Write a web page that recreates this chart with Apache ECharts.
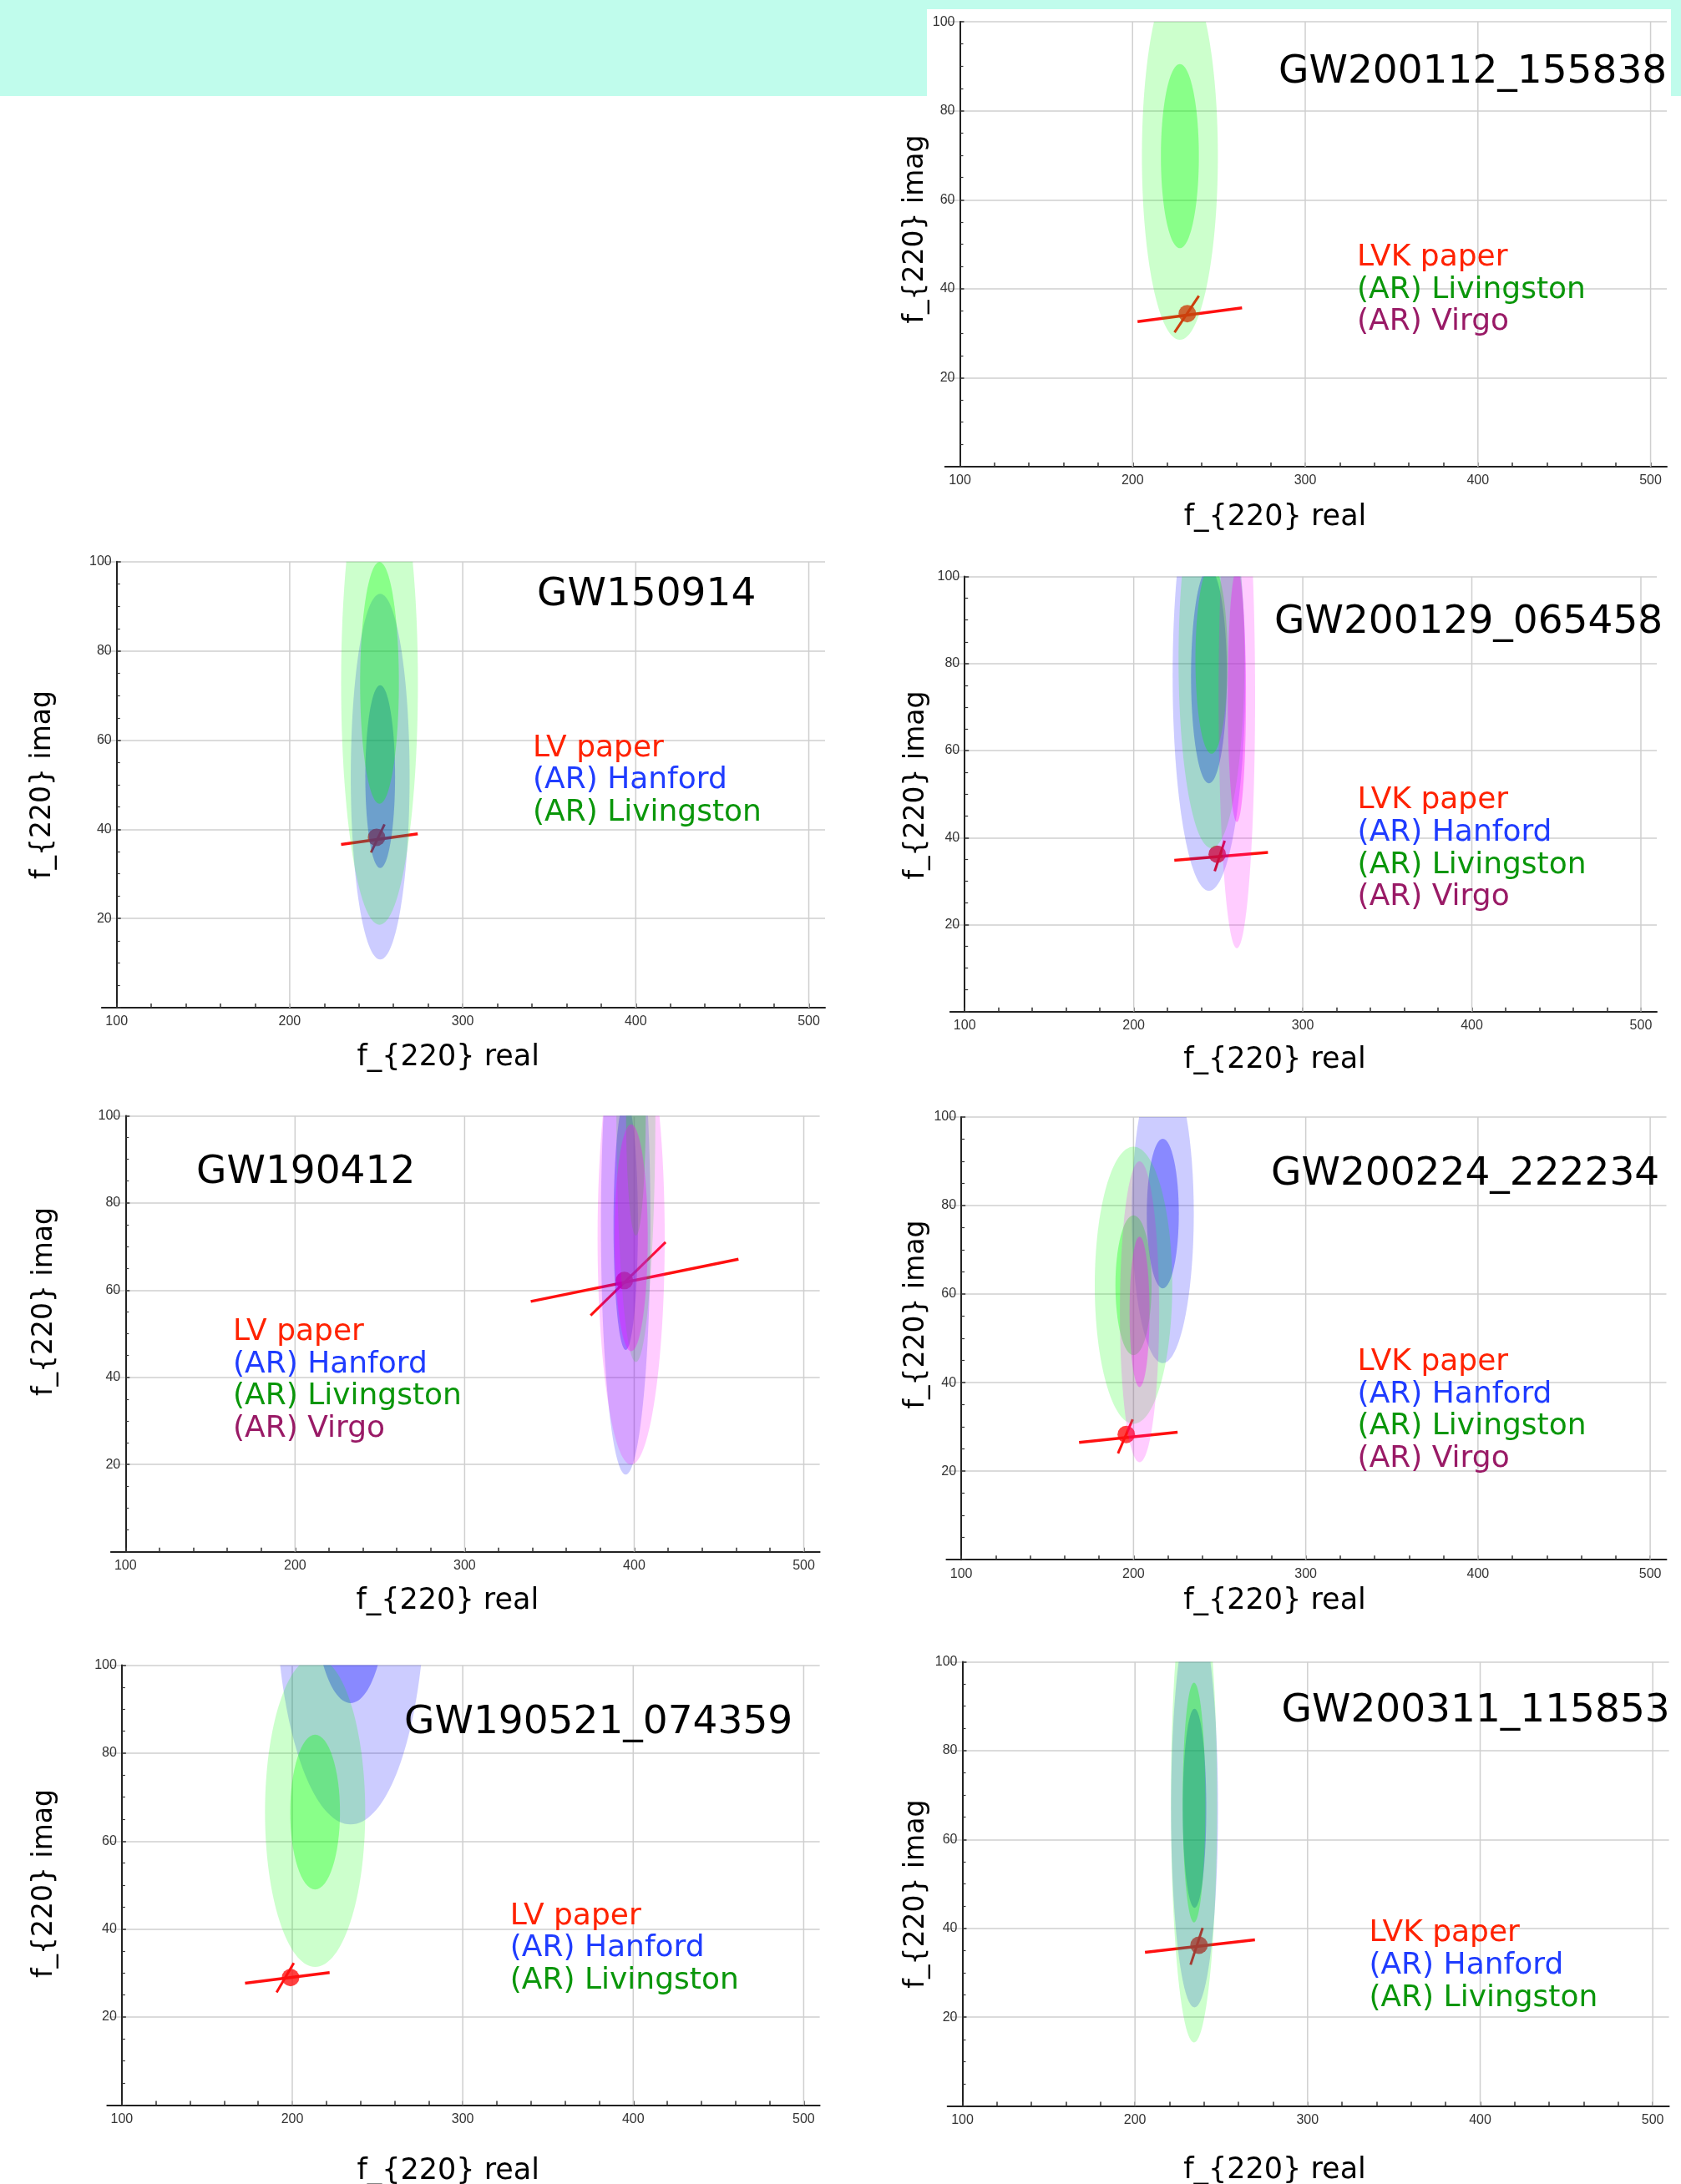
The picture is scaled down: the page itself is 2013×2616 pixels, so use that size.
<!DOCTYPE html>
<html>
<head>
<meta charset="utf-8">
<script src="https://cdn.jsdelivr.net/npm/echarts@6/dist/echarts.min.js"></script>
<style>
html,body{margin:0;padding:0;background:#fff;}
#c{width:2013px;height:2616px;}
</style>
</head>
<body>
<div id="c"></div>
<script>
// ---------------- DATA ----------------
const eventNames = ['GW200112_155838','GW150914','GW200129_065458','GW190412','GW200224_222234','GW190521_074359','GW200311_115853'];
const paperLabels = ['LVK paper','LV paper','LVK paper','LV paper','LVK paper','LV paper','LVK paper'];
const legendDetectors = [
  ['Livingston','Virgo'],
  ['Hanford','Livingston'],
  ['Hanford','Livingston','Virgo'],
  ['Hanford','Livingston','Virgo'],
  ['Hanford','Livingston','Virgo'],
  ['Hanford','Livingston'],
  ['Hanford','Livingston']
];
const xAxisTitle = 'f_{220} real';
const yAxisTitle = 'f_{220} imag';
const xTickLabels = [100,200,300,400,500];
const xTickMarks = [100,120,140,160,180,200,220,240,260,280,300,320,340,360,380,400,420,440,460,480,500];
const xGridLines = [200,300,400,500];
const yRange = [0,100];
const xRange = [91.4,509.4];

// LVK paper estimate: central point and two error axes (real, imag)
const lvkPoint = [[231.7,34.4],[250.2,38.2],[249.4,36.2],[394.2,62.2],[195.8,28.3],[199,29],[237.1,36.2]];
const lvkAxisA = [
  [[202.9,32.6],[263.4,35.7]],
  [[229.7,36.6],[274,39.0]],
  [[224,34.8],[279.4,36.6]],
  [[339,57.4],[461.5,67.1]],
  [[168.4,26.5],[225.6,28.8]],
  [[172.3,27.7],[221.9,30.1]],
  [[205.8,34.6],[269.5,37.4]]
];
const lvkAxisB = [
  [[224.3,30.2],[238.4,38.4]],
  [[247,34.8],[254.8,41.1]],
  [[247.9,32.3],[253.8,39.3]],
  [[374.3,54.2],[418.5,71.0]],
  [[191,24],[199.5,31.7]],
  [[190.8,25.6],[200.9,32.3]],
  [[232.2,31.8],[239.2,40.1]]
];

// AR ellipses: [centerReal, centerImag, a1, b1, a2, b2]  (1-sigma and 2-sigma semi-axes)
const hanfordEllipse = [
  null,
  [252.3,51.8,8.6,20.5,17,41],
  [244.5,77.2,10.6,24.7,21.5,49.4],
  [395,75,7.2,28.7,14.6,57.3],
  [217,78.2,9.3,16.9,18,33.8],
  [234.2,119,22,27.6,44,55.2],
  [234.5,67,6.8,22.4,13.6,44.8]
];
const livingstonEllipse = [
  [227.4,69.8,11,20.7,22,41.3],
  [251.9,72.8,11.2,27.1,22.2,54.2],
  [246,81,9.5,21.7,19.5,43.4],
  [401,101.5,5.8,29,11.5,58],
  [200,62,10.5,15.8,22.5,31.3],
  [213.4,66.6,14.6,17.6,29.4,35.2],
  [234.2,68.3,6.6,27,13.4,54]
];
const virgoEllipse = [
  null,
  null,
  [261,72.6,5.4,29,10.8,58],
  [398.2,72,9.8,26,19.8,52],
  [203.5,56,5.8,17,11.4,34],
  null,
  null
];

// ---------------- LAYOUT / STYLE ----------------
const gridBox = [
  [1131.7,26.1,864.3,532.9],
  [121.9,672.8,866.1,534.2],
  [1137.8,690.6,846.2,521.2],
  [132.8,1336.4,848.8,522.3],
  [1133.4,1338,862.1,530.2],
  [128.3,1994.6,853.3,526.8],
  [1134.7,1990.4,863.9,532.2]
];
const titlePos = [[1531,87],[643,712.5],[1526,746],[235,1405],[1522,1406.5],[484,2063.5],[1534.5,2049.7]];
const legendPos = [[1625,308.5],[638,896.3],[1625.6,959],[279,1595.7],[1625.6,1631.6],[610.8,2295.4],[1639.4,2315.8]];
const legendStep = 38.7;
const xTitlePos = [[1527,620],[536.7,1267],[1526.5,1270],[535.8,1918],[1526.5,1918],[536.7,2601],[1526.5,2600]];
const yTitlePos = [[1096.5,274.5],[51.3,940],[1097,940.5],[53,1559],[1097,1574.5],[53,2256],[1097,2268.6]];

const detColors = {
  Hanford: {text:'#1f3cff', fill1:'rgba(0,0,255,0.33)', fill2:'rgba(0,0,255,0.2)'},
  Livingston: {text:'#0a960a', fill1:'rgba(0,255,0,0.33)', fill2:'rgba(0,255,0,0.2)'},
  Virgo: {text:'#991a66', fill1:'rgba(255,0,255,0.33)', fill2:'rgba(255,0,255,0.2)'}
};
const paperColor = '#ff2200';
const lvkColor = '#ff1010';
const gridColor = '#cfcfcf';
const FONT = '"DejaVu Sans", "Liberation Sans", sans-serif';

// ---------------- BUILD ----------------
function ellipseItem(params, api) {
  const c = api.coord([api.value(0), api.value(1)]);
  const s = api.size([api.value(2), api.value(3)]);
  return {
    type: 'ellipse',
    shape: {cx: c[0], cy: c[1], rx: Math.abs(s[0]), ry: Math.abs(s[1])},
    style: {fill: api.visual('color')}
  };
}
function vGridItem(params, api) {
  const v = api.value(0);
  const p0 = api.coord([v, yRange[0]]);
  const p1 = api.coord([v, yRange[1]]);
  return {
    type: 'line',
    shape: {x1: p0[0], y1: p0[1], x2: p1[0], y2: p1[1]},
    style: {stroke: gridColor, lineWidth: 1.5}
  };
}

const grids = [], xAxes = [], yAxes = [], series = [], graphics = [];

graphics.push({type:'rect', z:-1, shape:{x:0,y:0,width:2013,height:115}, style:{fill:'#c0fcec'}});
graphics.push({type:'rect', z:-1, shape:{x:1110,y:11,width:891,height:110}, style:{fill:'#ffffff'}});

const ellipseSets = [['Hanford', hanfordEllipse], ['Livingston', livingstonEllipse], ['Virgo', virgoEllipse]];

for (let i = 0; i < eventNames.length; i++) {
  const b = gridBox[i];
  grids.push({left: b[0], top: b[1], width: b[2], height: b[3], containLabel: false});
  const pxPerUnit = b[2] / (xRange[1] - xRange[0]);
  const yOffset = -(xTickLabels[0] - xRange[0]) * pxPerUnit;
  xAxes.push({
    type: 'value', gridIndex: i, min: xRange[0], max: xRange[1],
    axisLine: {show: true, onZero: false, lineStyle: {color: '#222', width: 2}},
    axisTick: {show: true, inside: true, length: 5, customValues: xTickMarks, lineStyle: {color: '#333', width: 1.5}},
    axisLabel: {show: true, customValues: xTickLabels, fontSize: 16, color: '#333', margin: 9, fontFamily: '"Liberation Sans", Arial, sans-serif'},
    splitLine: {show: false}
  });
  yAxes.push({
    type: 'value', gridIndex: i, min: yRange[0], max: yRange[1], interval: 20, offset: yOffset,
    axisLine: {show: true, onZero: false, lineStyle: {color: '#222', width: 2}},
    axisTick: {show: true, inside: true, length: 5, lineStyle: {color: '#333', width: 1.5}},
    minorTick: {show: true, splitNumber: 4, length: 4, lineStyle: {color: '#333', width: 1.2}},
    axisLabel: {show: true, showMinLabel: false, fontSize: 16, color: '#333', margin: 6, fontFamily: '"Liberation Sans", Arial, sans-serif'},
    splitLine: {show: true, lineStyle: {color: gridColor, width: 1.5}}
  });

  series.push({
    type: 'custom', xAxisIndex: i, yAxisIndex: i, z: 1, silent: true, clip: true,
    renderItem: vGridItem, data: xGridLines.map(v => [v, yRange[1]])
  });
  series.push({
    type: 'line', xAxisIndex: i, yAxisIndex: i, z: 2, silent: true, symbol: 'none',
    lineStyle: {color: lvkColor, width: 3.5}, data: lvkAxisA[i]
  });
  series.push({
    type: 'line', xAxisIndex: i, yAxisIndex: i, z: 2, silent: true, symbol: 'none',
    lineStyle: {color: lvkColor, width: 3}, data: lvkAxisB[i]
  });
  series.push({
    type: 'scatter', xAxisIndex: i, yAxisIndex: i, z: 2, silent: true, symbol: 'circle', symbolSize: 21,
    itemStyle: {color: lvkColor}, data: [lvkPoint[i]]
  });
  let zz = 3;
  for (const [name, arr] of ellipseSets) {
    const e = arr[i];
    if (!e) continue;
    series.push({
      type: 'custom', xAxisIndex: i, yAxisIndex: i, z: zz++, silent: true, clip: true,
      renderItem: ellipseItem, itemStyle: {color: detColors[name].fill2},
      encode: {x: 0, y: 1}, data: [[e[0], e[1], e[4], e[5]]]
    });
    series.push({
      type: 'custom', xAxisIndex: i, yAxisIndex: i, z: zz++, silent: true, clip: true,
      renderItem: ellipseItem, itemStyle: {color: detColors[name].fill1},
      encode: {x: 0, y: 1}, data: [[e[0], e[1], e[2], e[3]]]
    });
  }

  // texts
  graphics.push({type:'text', z:100, x: titlePos[i][0], y: titlePos[i][1],
    style:{text: eventNames[i], font: '47px ' + FONT, fill:'#000', textAlign:'left', textVerticalAlign:'middle', align:'left', verticalAlign:'middle'}});
  const lines = [[paperLabels[i], paperColor]].concat(legendDetectors[i].map(d => ['(AR) ' + d, detColors[d].text]));
  lines.forEach((ln, k) => {
    graphics.push({type:'text', z:100, x: legendPos[i][0], y: legendPos[i][1] + k * legendStep,
      style:{text: ln[0], font: '36px ' + FONT, fill: ln[1], textAlign:'left', textVerticalAlign:'middle', align:'left', verticalAlign:'middle'}});
  });
  graphics.push({type:'text', z:100, x: xTitlePos[i][0], y: xTitlePos[i][1],
    style:{text: xAxisTitle, font: '35px ' + FONT, fill:'#000', textAlign:'center', textVerticalAlign:'middle', align:'center', verticalAlign:'middle'}});
  graphics.push({type:'text', z:100, x: yTitlePos[i][0], y: yTitlePos[i][1], rotation: Math.PI / 2,
    style:{text: yAxisTitle, font: '33px ' + FONT, fill:'#000', textAlign:'center', textVerticalAlign:'middle', align:'center', verticalAlign:'middle'}});
}

const chart = echarts.init(document.getElementById('c'), null, {renderer: 'canvas'});
chart.setOption({
  backgroundColor: '#ffffff',
  animation: false,
  grid: grids,
  xAxis: xAxes,
  yAxis: yAxes,
  series: series,
  graphic: {elements: graphics}
});
</script>
</body>
</html>
